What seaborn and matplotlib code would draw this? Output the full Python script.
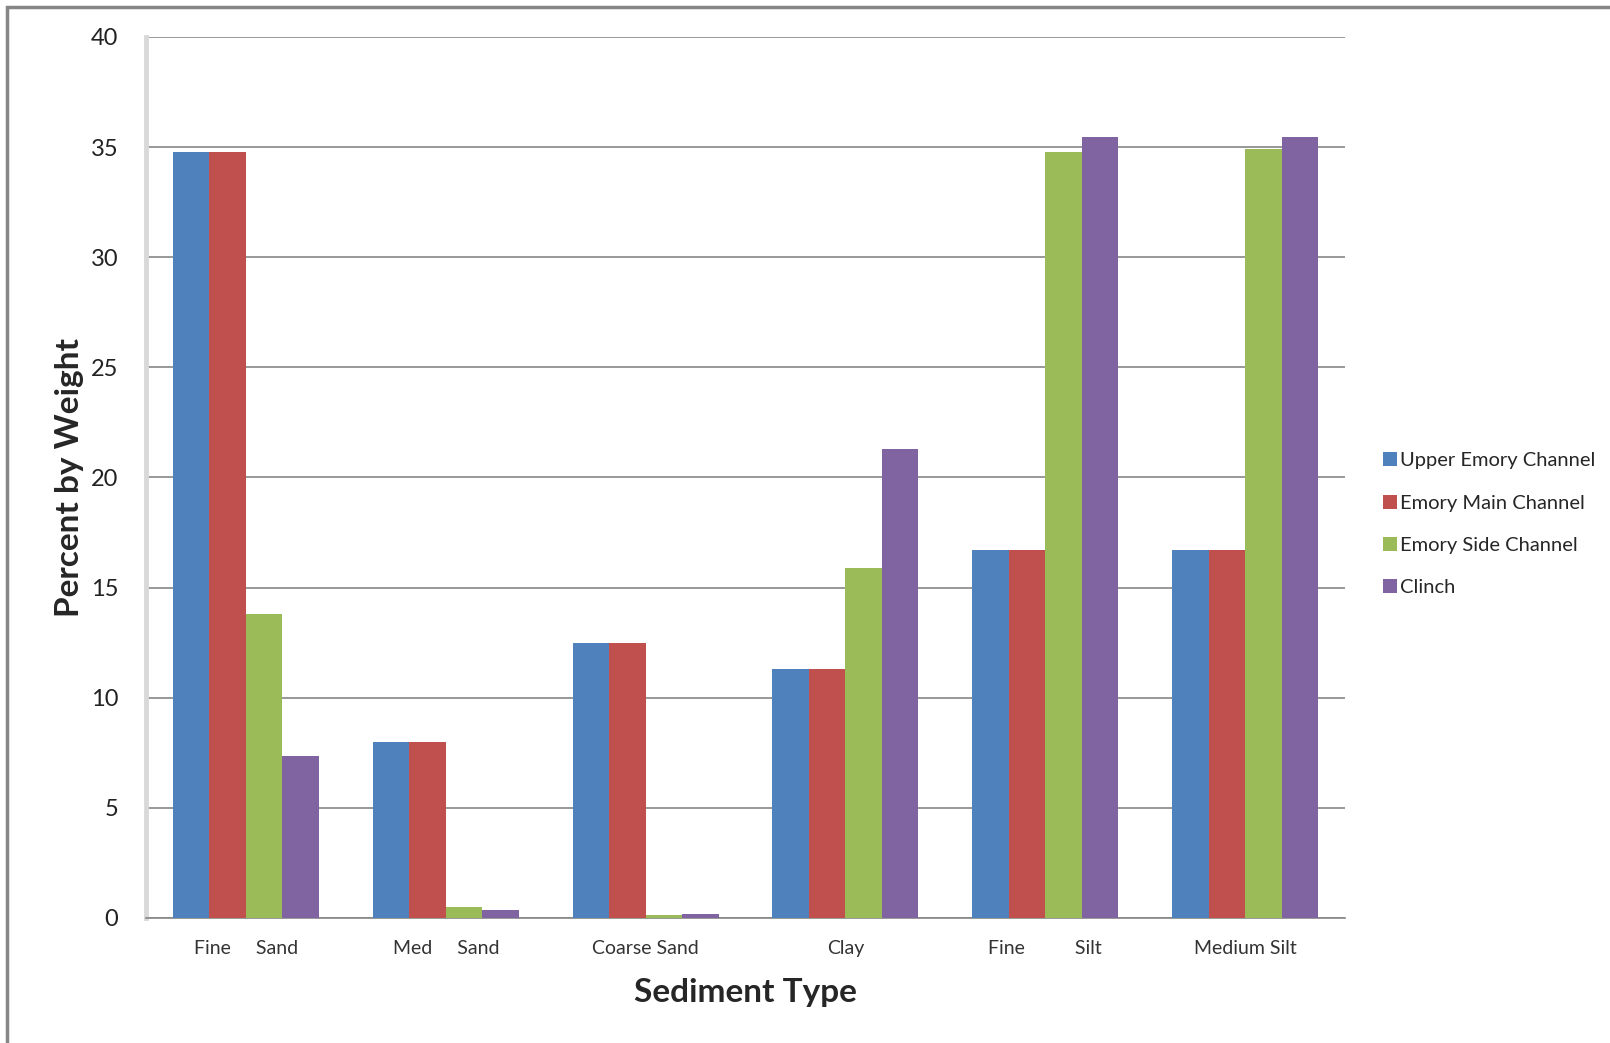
import matplotlib
matplotlib.use("Agg")
import matplotlib.pyplot as plt
import seaborn as sns
import pandas as pd
from matplotlib.patches import Rectangle

# Sediment composition (percent by weight) per sampling site
categories = ["Fine     Sand", "Med     Sand", "Coarse Sand", "Clay",
              "Fine          Silt", "Medium Silt"]
sites = ["Upper Emory Channel", "Emory Main Channel", "Emory Side Channel", "Clinch"]
upper_emory = [34.8, 8.0, 12.5, 11.3, 16.7, 16.7]
emory_main = [34.8, 8.0, 12.5, 11.3, 16.7, 16.7]
emory_side = [13.8, 0.5, 0.14, 15.9, 34.8, 34.9]
clinch = [7.35, 0.35, 0.18, 21.3, 35.45, 35.45]
colors = ["#4F81BD", "#C0504D", "#9BBB59", "#8064A2"]
y_ticks = [0, 5, 10, 15, 20, 25, 30, 35, 40]

rows = []
for site, vals in zip(sites, [upper_emory, emory_main, emory_side, clinch]):
    for cat, v in zip(categories, vals):
        rows.append({"Sediment": cat, "Site": site, "Percent": v})
df = pd.DataFrame(rows)

sns.set_style("white")
body_font = ["Lato", "DejaVu Sans"]
plt.rcParams["font.family"] = body_font

fig = plt.figure(figsize=(16.10, 10.43), dpi=100)
ax = fig.add_axes([146 / 1610, 1 - 918 / 1043, (1345 - 146) / 1610, (918 - 37) / 1043])

sns.barplot(data=df, x="Sediment", y="Percent", hue="Site", order=categories,
            hue_order=sites, palette=colors, width=0.73, gap=0, saturation=1,
            linewidth=0, ax=ax, legend=True, zorder=3)

ax.set_ylim(0, 40)
ax.set_xlim(-0.5, len(categories) - 0.5)
ax.set_yticks(y_ticks)
ax.yaxis.grid(True, color="#868686", linewidth=1.2, zorder=0)
ax.set_axisbelow(True)

for side in ["top", "right"]:
    ax.spines[side].set_visible(False)
ax.spines["left"].set_color("#d9d9d9")
ax.spines["left"].set_linewidth(3.5)
ax.spines["bottom"].set_color("#868686")
ax.spines["bottom"].set_linewidth(1.2)

ax.tick_params(axis="y", length=9, width=1.2, color="#868686", pad=11,
               labelsize=17, labelcolor="#222222")

# category boundary ticks on the x axis, labels centred under each group
ax.set_xticks([i - 0.5 for i in range(len(categories) + 1)], minor=True)
ax.tick_params(axis="x", which="minor", length=6, width=2.5, color="#d9d9d9")
ax.tick_params(axis="x", which="major", length=0, pad=16, labelsize=14,
               labelcolor="#333333")

ax.set_xlabel("Sediment Type", fontsize=24, fontweight="bold", labelpad=15)
ax.set_ylabel("Percent by Weight", fontsize=24, fontweight="bold", labelpad=5)

handles, labels = ax.get_legend_handles_labels()
ax.legend(handles, labels, loc="center left", bbox_to_anchor=(1.025, 0.447),
          frameon=False, fontsize=14.5, handlelength=0.7, handleheight=0.7,
          handletextpad=0.15, labelspacing=1.25, borderaxespad=0)

# outer chart frame (left and top edges visible)
fig.patches.append(Rectangle((7 / 1610, -0.05), 1.2, 1 - 7 / 1043 + 0.05,
                             transform=fig.transFigure, fill=False,
                             edgecolor="#868686", linewidth=2.5))

fig.savefig("out.png", dpi=100, facecolor="white")
